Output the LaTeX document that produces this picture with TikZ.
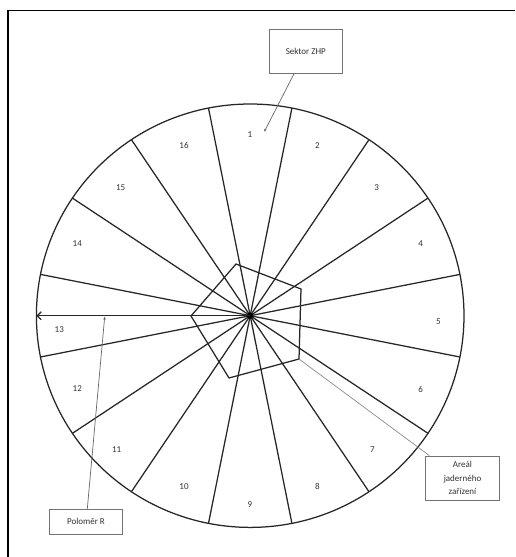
\documentclass[tikz,border=0pt]{standalone}
\usepackage{fontspec}
\setmainfont{Carlito}
\usetikzlibrary{arrows.meta}
\begin{document}
\begin{tikzpicture}[x=1pt,y=-1pt,
  spoke/.style={line width=1.25pt, draw=black!85},
  lbl/.style={font=\fontsize{9}{10}\selectfont, text=black!80, inner sep=0pt},
  box/.style={draw=black!55, line width=0.9pt, fill=white, font=\fontsize{9}{13.5}\selectfont, text=black!80, align=center, inner sep=0pt},
  leader/.style={draw=black!60, line width=0.7pt},
  tip/.style={-{Stealth[length=3pt,width=2.5pt]}}]
\useasboundingbox (0,0) rectangle (515,557);
\fill[white] (0,0) rectangle (515,557);
% page frame
\draw[line width=1.7pt] (8,557) -- (8,10.5) -- (515,10.5);
% circle and sectors
\coordinate (c) at (250.2,315.7);
\draw[spoke] (c) ellipse [x radius=213.8, y radius=211.7];
\foreach \k in {0,...,15}{
  \draw[spoke] (c) -- ([shift={(c)}] {11.25+22.5*\k}:213.8 and 211.7);
}
% area of the nuclear facility
\coordinate (p1) at (236,264);
\coordinate (p2) at (301,289);
\coordinate (p3) at (299,359);
\coordinate (p4) at (229,378);
\coordinate (p5) at (191,316);
\draw[spoke] (p1) -- (p2) -- (p3) -- (p4) -- (p5) -- cycle;
\fill[black] (c) circle (3.2);
% radius arrow
\coordinate (rend) at (36.4,315.7);
\draw[spoke, -{Straight Barb[length=4pt,width=8pt]}] (c) -- (rend);
% sector numbers
\foreach \n/\x/\y in {1/250/134.4, 2/317.3/145.8, 3/376.7/187.7, 4/420.7/243.9,
  5/438.3/321.7, 6/420.7/389, 7/372.3/449.7, 8/317.3/486.3, 9/250/504.1,
  10/184/486.3, 11/116.7/449.7, 12/77.3/389, 13/59.3/329.2, 14/77.3/243.9,
  15/120.7/187.7, 16/184/145.8}{
  \node[lbl] (l\n) at (\x,\y) {\n};
}
% callout boxes
\node[box, minimum width=73pt, minimum height=44pt] (sektor) at (305.8,51.3) {Sektor ZHP};
\node[box, minimum width=73.4pt, minimum height=25pt] (polomer) at (86,521.8) {Poloměr R};
\node[box, minimum width=73.6pt, minimum height=44.7pt] (areal) at (462.5,478.3) {Areál\\jaderného\\zařízení};
% leaders
\coordinate (s1) at (264.3,131.7);
\coordinate (r1) at (104.7,316.7);
\draw[leader, tip] ([xshift=-11.8pt]sektor.south) -- (s1);
\draw[leader, tip] ([xshift=1.3pt]polomer.north) -- (r1);
\draw[leader, draw=black!45] ([xshift=4pt]areal.north west) -- (p3);
\end{tikzpicture}
\end{document}
